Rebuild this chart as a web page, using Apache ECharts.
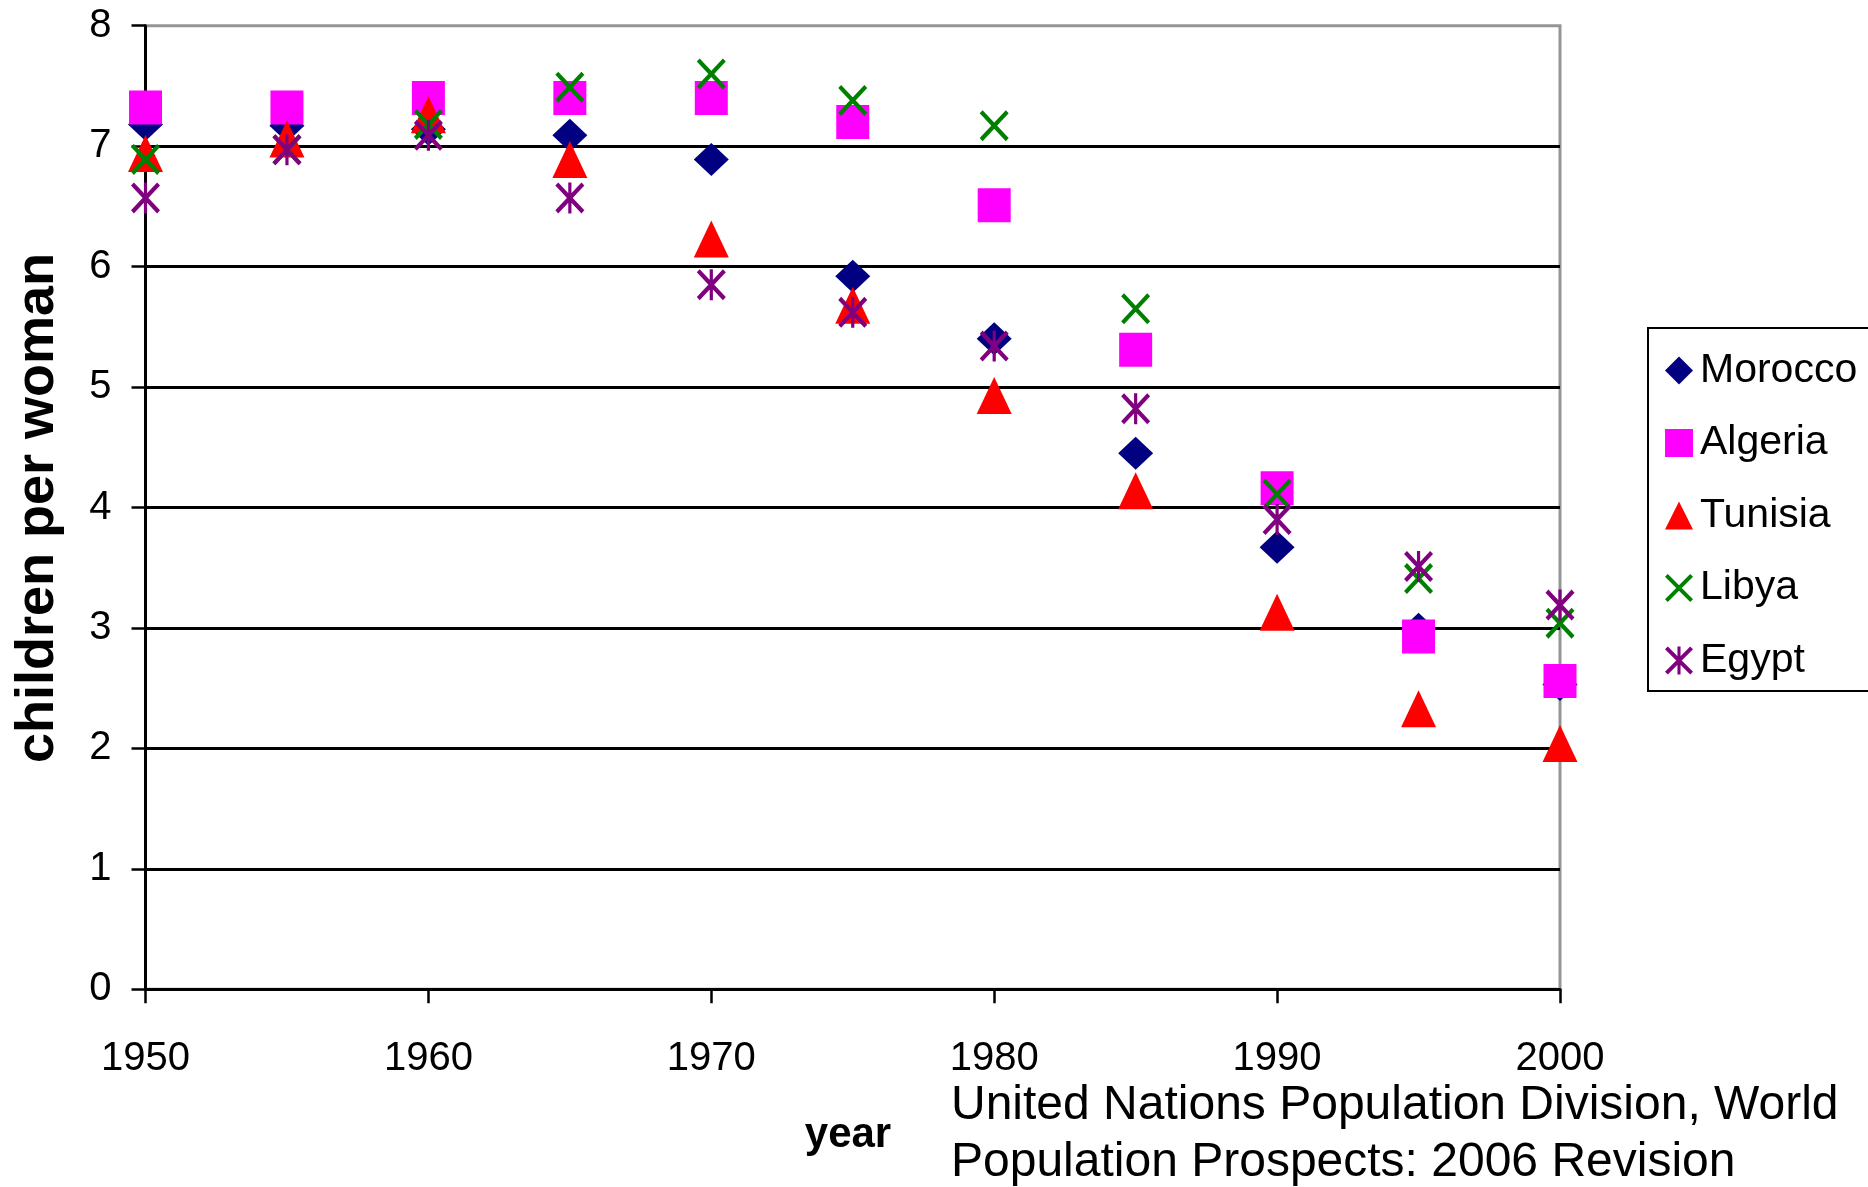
<!DOCTYPE html>
<html>
<head>
<meta charset="utf-8">
<script src="https://cdn.jsdelivr.net/npm/echarts@6/dist/echarts.min.js"></script>
<style>
html,body{margin:0;padding:0;background:#fff;}
#chart{width:1868px;height:1187px;}
</style>
</head>
<body>
<div id="chart"></div>
<script>
// ---- data ----
const years = [1950, 1955, 1960, 1965, 1970, 1975, 1980, 1985, 1990, 1995, 2000];
const morocco = [7.18, 7.17, 7.14, 7.09, 6.89, 5.92, 5.40, 4.45, 3.67, 2.99, 2.53];
const algeria = [7.32, 7.32, 7.40, 7.40, 7.40, 7.20, 6.51, 5.31, 4.16, 2.93, 2.56];
const tunisia = [6.94, 7.06, 7.26, 6.89, 6.23, 5.68, 4.93, 4.14, 3.13, 2.33, 2.04];
const libya   = [6.89, 6.97, 7.18, 7.49, 7.60, 7.38, 7.17, 5.65, 4.11, 3.41, 3.04];
const egypt   = [6.57, 6.97, 7.09, 6.57, 5.85, 5.62, 5.34, 4.82, 3.90, 3.51, 3.19];
const seriesNames = ['Morocco', 'Algeria', 'Tunisia', 'Libya', 'Egypt'];
const yTitle = 'children per woman';
const xTitle = 'year';
const sourceText = 'United Nations Population Division, World\nPopulation Prospects: 2006 Revision';

const FONT = '"Liberation Sans", Arial, Helvetica, sans-serif';
const xPath = 'path://M0,10 L10,0 L100,90 L90,100 Z M90,0 L100,10 L10,100 L0,90 Z';
const starPath = 'path://M0,10 L10,0 L100,90 L90,100 Z M90,0 L100,10 L10,100 L0,90 Z M44.5,0 L55.5,0 L55.5,100 L44.5,100 Z';

function pairs(vals) { return years.map((y, i) => [y, vals[i]]); }

const chart = echarts.init(document.getElementById('chart'), null, {renderer: 'canvas'});
const option = {
  animation: false,
  backgroundColor: '#fff',
  textStyle: {fontFamily: FONT, color: '#000'},
  grid: {
    left: 145.5, top: 25.7, right: 308, bottom: 197.7,
    show: true, borderColor: '#959595', borderWidth: 3, backgroundColor: 'transparent',
    containLabel: false, outerBoundsMode: 'none'
  },
  legend: {
    orient: 'vertical',
    left: 1648, top: 328,
    padding: [22, 30, 10, 17],
    itemGap: 31.5,
    itemWidth: 28, itemHeight: 28,
    borderColor: '#000', borderWidth: 2,
    backgroundColor: '#fff',
    textStyle: {fontFamily: FONT, fontSize: 41, color: '#000', padding: [0, 0, 0, 2]},
    data: seriesNames
  },
  xAxis: {
    type: 'value', min: 1950, max: 2000, interval: 10,
    axisLine: {show: true, onZero: false, lineStyle: {color: '#000', width: 3}},
    axisTick: {show: true, inside: false, length: 14, lineStyle: {color: '#000', width: 2.5}},
    axisLabel: {fontFamily: FONT, fontSize: 40, color: '#000', margin: 50, formatter: v => String(v)},
    splitLine: {show: false}
  },
  yAxis: {
    type: 'value', min: 0, max: 8, interval: 1,
    axisLine: {show: true, onZero: false, lineStyle: {color: '#000', width: 3}},
    axisTick: {show: true, inside: false, length: 14, lineStyle: {color: '#000', width: 2.5}},
    axisLabel: {fontFamily: FONT, fontSize: 40, color: '#000', margin: 34},
    splitLine: {show: true, showMinLine: false, showMaxLine: false, lineStyle: {color: '#000', width: 3}}
  },
  graphic: [
    {type: 'text', x: 38, y: 508, rotation: Math.PI / 2,
     style: {text: yTitle, font: 'bold 54px ' + FONT, fill: '#000', align: 'center', verticalAlign: 'middle'}},
    {type: 'text', x: 848, y: 1135,
     style: {text: xTitle, font: 'bold 42px ' + FONT, fill: '#000', align: 'center', verticalAlign: 'middle'}},
    {type: 'text', x: 951, y: 1077,
     style: {text: sourceText, font: '48px ' + FONT, fill: '#000', align: 'left', verticalAlign: 'top', lineHeight: 57}}
  ],
  series: [
    {name: 'Morocco', type: 'scatter', data: pairs(morocco), symbol: 'diamond', symbolSize: [35, 33],
     itemStyle: {color: '#000080', opacity: 1}, z: 2},
    {name: 'Algeria', type: 'scatter', data: pairs(algeria), symbol: 'rect', symbolSize: [33, 34],
     itemStyle: {color: '#FF00FF', opacity: 1}, z: 3},
    {name: 'Tunisia', type: 'scatter', data: pairs(tunisia), symbol: 'triangle', symbolSize: [35, 37],
     itemStyle: {color: '#FF0000', opacity: 1}, z: 4},
    {name: 'Libya', type: 'scatter', data: pairs(libya), symbol: xPath, symbolSize: [29, 31],
     itemStyle: {color: '#008000', opacity: 1}, z: 5},
    {name: 'Egypt', type: 'scatter', data: pairs(egypt), symbol: starPath, symbolSize: [29, 31],
     itemStyle: {color: '#800080', opacity: 1}, z: 6}
  ]
};
chart.setOption(option);
</script>
</body>
</html>
